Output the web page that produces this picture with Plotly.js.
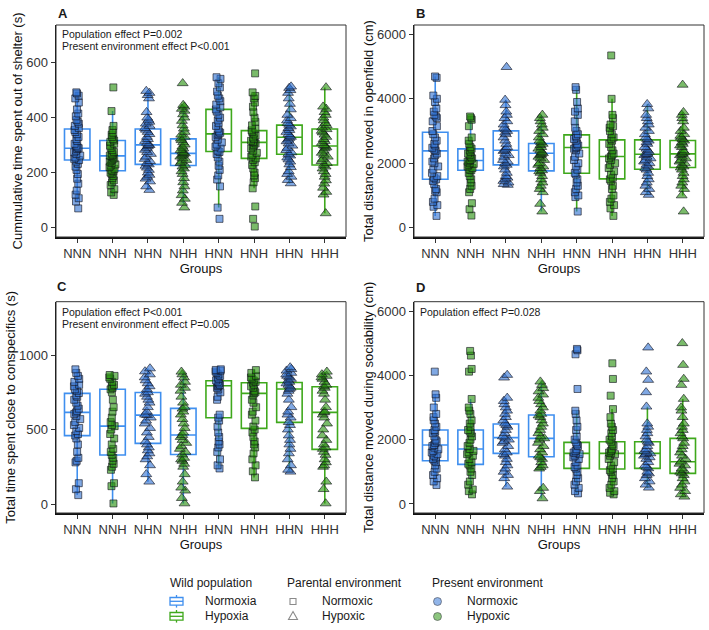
<!DOCTYPE html>
<html>
<head>
<meta charset="utf-8">
<script src="https://cdn.plot.ly/plotly-3.0.1.min.js"></script>
<style>html,body{margin:0;padding:0;background:#fff}#chart{width:709px;height:630px}</style>
</head>
<body>
<div id="chart"></div>
<script>
// ---------- categories ----------
const groups = ['NNN','NNH','NHN','NHH','HNN','HNH','HHN','HHH'];

// ---------- Panel A: cumulative time spent out of shelter (s) ----------
const A_NNN = [492,488,480,470,455,430,415,405,392,385,378,370,362,355,348,340,330,322,315,305,298,292,289,286,280,274,268,262,255,250,246,240,232,222,210,195,178,160,135,120,107,95,70];
const A_NNH = [510,424,370,355,345,338,330,322,317,312,305,298,290,282,275,270,265,262,260,256,252,248,244,240,235,230,226,220,214,208,205,200,195,188,180,172,165,155,140,128,119];
const A_NHN = [497,490,482,470,420,400,392,385,378,370,362,356,348,340,330,322,315,308,302,300,296,290,283,275,268,258,250,242,235,230,225,218,210,200,192,185,178,168,150,137];
const A_NHH = [525,446,440,432,425,412,400,388,372,360,348,338,330,324,318,310,302,295,288,282,276,272,270,266,262,258,252,246,240,235,228,222,215,205,195,180,165,150,135,118,105,90,73];
const A_HNN = [547,541,525,510,495,480,470,460,448,438,430,422,410,400,390,380,370,360,350,345,340,336,330,320,310,302,295,288,280,275,268,255,240,225,210,190,175,150,73,32];
const A_HNH = [561,492,479,470,455,440,420,400,385,372,360,354,348,342,335,328,322,316,312,310,306,300,295,288,280,272,265,258,252,246,238,228,215,200,190,180,165,143,77,32,4];
const A_HHN = [513,508,500,490,470,450,430,410,398,390,380,374,368,362,355,348,340,334,330,326,320,314,306,298,290,282,274,268,262,255,248,240,230,220,205,195,185,173,161];
const A_HHH = [510,440,432,420,410,400,390,380,372,364,358,352,346,338,330,322,315,308,300,297,292,288,280,272,265,258,250,242,235,228,222,215,205,195,185,172,160,145,130,120,52];
const A_q1  = [246,207,230,226,277,252,267,228];
const A_med = [289,261,301,270,341,310,329,297];
const A_q3  = [359,317,359,323,430,353,373,359];
const A_lo  = [95,119,137,90,73,143,161,52];
const A_hi  = [492,424,497,446,547,492,513,510];

// ---------- Panel B: total distance moved in openfield (cm) ----------
const B_NNN = [4692,4650,4100,4000,3900,3700,3600,3500,3450,3400,3300,3150,3000,2900,2800,2700,2600,2550,2480,2420,2384,2300,2250,2150,2050,2000,1900,1800,1700,1600,1550,1500,1450,1350,1200,1150,1100,900,800,700,650,365];
const B_NNH = [3450,3400,3350,3150,2800,2700,2600,2500,2450,2400,2350,2300,2250,2200,2150,2100,2080,2050,2000,1980,1950,1900,1850,1800,1780,1700,1600,1500,1400,1300,1200,1100,760,573,376];
const B_NHN = [4982,3967,3800,3600,3500,3400,3300,3200,3100,3050,3000,2950,2900,2800,2700,2600,2500,2450,2400,2380,2300,2250,2200,2100,2050,2000,1950,1900,1800,1700,1600,1550,1500,1450,1400,1350,1328];
const B_NHH = [3502,3400,3300,3200,3100,3000,2900,2800,2700,2650,2600,2560,2500,2450,2400,2350,2311,2280,2250,2200,2150,2100,2000,1950,1900,1850,1780,1750,1700,1600,1500,1400,1300,1200,1100,738,500];
const B_HNN = [4360,4278,3900,3700,3600,3500,3300,3100,3000,2900,2850,2800,2750,2700,2600,2550,2500,2480,2450,2400,2300,2200,2100,2000,1900,1800,1700,1650,1500,1400,1300,1200,1100,1000,950,500];
const B_HNH = [5344,3998,3500,3400,3200,3150,3100,3000,2900,2800,2750,2700,2600,2500,2400,2300,2250,2208,2150,2100,2000,1950,1850,1750,1650,1550,1500,1450,1300,1200,1000,900,800,700,600,365];
const B_HHN = [3833,3700,3500,3400,3300,3200,3100,3000,2900,2800,2750,2700,2650,2600,2500,2450,2400,2350,2300,2280,2250,2200,2150,2100,2050,2000,1950,1900,1850,1800,1700,1600,1500,1400,1300,1200,1100,1018];
const B_HHH = [4433,3584,3500,3400,3300,3100,3000,2900,2850,2800,2750,2700,2650,2600,2550,2500,2400,2350,2300,2290,2250,2200,2150,2100,2050,2000,1950,1900,1866,1800,1700,1600,1500,1400,1300,1200,1000,500];
const B_q1  = [1504,1783,1949,1763,1690,1514,1814,1866];
const B_med = [2384,2083,2404,2311,2487,2208,2280,2290];
const B_q3  = [2963,2446,3005,2611,2881,2725,2725,2705];
const B_lo  = [365,1100,1328,500,500,365,1018,1000];
const B_hi  = [4692,3450,3967,3502,4360,3998,3833,3584];

// ---------- Panel C: total time spent close to conspecifics (s) ----------
const C_NNN = [904,880,860,840,820,800,790,770,760,745,730,720,700,680,660,640,625,615,605,590,570,550,530,510,490,470,460,440,400,350,310,290,280,140,100,60];
const C_NNH = [866,860,850,840,820,800,790,780,770,750,700,650,620,580,550,530,523,500,470,440,400,370,350,330,310,290,270,250,230,140,120,4];
const C_NHN = [910,890,870,850,830,810,790,770,750,740,720,700,680,650,620,600,597,580,560,540,510,480,450,420,400,380,360,340,320,300,260,200,150];
const C_NHH = [888,870,850,820,800,780,760,720,680,650,640,620,600,570,540,510,480,463,450,430,410,390,370,350,333,310,300,290,270,250,200,150,110,90,40,4];
const C_HNN = [904,900,895,890,880,870,860,850,840,830,820,810,800,795,790,780,770,750,720,700,600,580,560,520,480,450,420,400,380,350,300,260,239];
const C_HNH = [899,880,860,850,840,830,820,815,800,790,780,760,750,743,730,700,680,650,620,600,560,520,500,480,450,420,400,380,340,300,260,220,179];
const C_HHN = [917,905,895,880,870,860,850,840,830,820,810,800,790,780,772,760,740,700,650,620,600,580,550,530,500,460,430,400,370,340,300,260,230,217];
const C_HHH = [888,870,860,850,840,820,800,790,780,760,740,700,650,620,615,600,580,540,500,460,430,400,380,370,350,330,300,280,260,250,150,100,4];
const C_q1  = [459,329,407,333,579,508,548,367];
const C_med = [615,523,597,463,794,743,772,615];
const C_q3  = [743,770,749,642,828,814,816,787];
const C_lo  = [60,4,150,4,239,179,217,4];
const C_hi  = [904,866,910,888,904,899,917,888];

// ---------- Panel D: total distance moved during sociability (cm) ----------
const D_NNN = [4115,3410,3300,3000,2800,2700,2600,2500,2400,2300,2250,2200,2100,2000,1950,1900,1834,1800,1750,1700,1650,1600,1550,1500,1450,1400,1350,1300,1200,1100,1000,900,800,700,589];
const D_NNH = [4758,4613,4198,4115,3265,3000,2900,2800,2600,2500,2400,2300,2250,2200,2100,2000,1900,1800,1709,1650,1600,1550,1500,1400,1300,1250,1200,1100,1000,900,700,600,450,400,299];
const D_NHN = [4011,3928,3300,3200,3100,3000,2900,2800,2700,2600,2500,2450,2400,2300,2200,2100,2062,2000,1950,1900,1800,1700,1600,1550,1500,1400,1300,1200,1100,1000,900,800,537];
const D_NHH = [3804,3700,3600,3500,3400,3300,3200,3100,3000,2900,2800,2750,2700,2600,2500,2400,2300,2200,2100,2041,2000,1900,1800,1700,1600,1500,1450,1400,1300,1200,1150,1100,500,400,174];
const D_HNN = [4820,4780,4654,3576,2900,2800,2600,2400,2300,2100,2000,1917,1850,1800,1700,1650,1600,1574,1550,1500,1450,1400,1300,1200,1150,1100,1000,900,800,700,600,500,400,330];
const D_HNH = [4374,3887,3368,2950,2700,2500,2400,2300,2200,2100,2000,1937,1850,1800,1700,1650,1600,1574,1550,1500,1400,1300,1200,1100,1050,1000,900,800,700,600,500,400,350,299];
const D_HHN = [4862,4115,3856,3472,3026,2500,2400,2300,2200,2100,2000,1937,1900,1800,1700,1650,1600,1574,1550,1500,1450,1400,1300,1200,1150,1108,1000,950,900,800,700,600,506];
const D_HHH = [4997,4322,3887,3700,3265,3000,2900,2700,2500,2400,2300,2200,2100,2041,1900,1800,1700,1600,1500,1400,1315,1250,1200,1100,1050,1000,952,900,800,700,600,500,400,300,226];
const D_q1  = [1346,1232,1574,1471,1108,1087,1108,952];
const D_med = [1834,1709,2062,2041,1574,1574,1574,1315];
const D_q3  = [2300,2300,2487,2767,1917,1937,1937,2041];
const D_lo  = [589,299,537,174,330,299,506,226];
const D_hi  = [3410,3265,3300,3804,2900,2950,3026,3265];

// ---------- tick labels / texts ----------
const A_ticks = [0,200,400,600];
const B_ticks = [0,2000,4000,6000];
const C_ticks = [0,500,1000];
const D_ticks = [0,2000,4000,6000];

// ---------- styling ----------
const W = 709, H = 630;
const FONT = 'Liberation Sans, Arial, Helvetica, sans-serif';
const BLUE_BOX = '#3f8fef', GREEN_BOX = '#3fa81c';
const BLUE_PT = 'rgba(50,115,210,0.62)', GREEN_PT = 'rgba(40,145,15,0.62)';
const PT_LINE = 'rgba(15,15,25,0.6)';
const px = x => x / W, py = y => 1 - y / H;

const panels = [
  {xa:'x',  ya:'y',  data:[A_NNN,A_NNH,A_NHN,A_NHH,A_HNN,A_HNH,A_HHN,A_HHH], q1:A_q1, med:A_med, q3:A_q3, lo:A_lo, hi:A_hi},
  {xa:'x2', ya:'y2', data:[B_NNN,B_NNH,B_NHN,B_NHH,B_HNN,B_HNH,B_HHN,B_HHH], q1:B_q1, med:B_med, q3:B_q3, lo:B_lo, hi:B_hi},
  {xa:'x3', ya:'y3', data:[C_NNN,C_NNH,C_NHN,C_NHH,C_HNN,C_HNH,C_HHN,C_HHH], q1:C_q1, med:C_med, q3:C_q3, lo:C_lo, hi:C_hi},
  {xa:'x4', ya:'y4', data:[D_NNN,D_NNH,D_NHN,D_NHH,D_HNN,D_HNH,D_HHN,D_HHH], q1:D_q1, med:D_med, q3:D_q3, lo:D_lo, hi:D_hi}
];

const traces = [];
panels.forEach(p => {
  ['N','H'].forEach(pop => {
    const idx = groups.map((g,i)=>i).filter(i => groups[i][0] === pop);
    traces.push({
      type:'box', xaxis:p.xa, yaxis:p.ya,
      x: idx.map(i=>groups[i]),
      q1: idx.map(i=>p.q1[i]), median: idx.map(i=>p.med[i]), q3: idx.map(i=>p.q3[i]),
      lowerfence: idx.map(i=>p.lo[i]), upperfence: idx.map(i=>p.hi[i]),
      boxpoints:false, width:0.72, whiskerwidth:0,
      line:{color: pop==='N' ? BLUE_BOX : GREEN_BOX, width:1.6},
      fillcolor:'rgba(255,255,255,0)', showlegend:false, hoverinfo:'skip'
    });
  });
  groups.forEach((g,i) => {
    const tri = g[1] === 'H';
    traces.push({
      type:'box', xaxis:p.xa, yaxis:p.ya,
      x: p.data[i].map(()=>g), y: p.data[i],
      boxpoints:'all', jitter:0.28, pointpos:0, width:0.72,
      line:{width:0, color:'rgba(0,0,0,0)'}, fillcolor:'rgba(0,0,0,0)',
      marker:{symbol: tri ? 'triangle-up' : 'square', size: tri ? 9.5 : 7,
              color: g[2]==='N' ? BLUE_PT : GREEN_PT, line:{color:PT_LINE, width:1}},
      showlegend:false, hoverinfo:'skip'
    });
  });
});

const xDomL = [px(56), px(346)], xDomR = [px(414), px(704)];
const yDomT = [py(237), py(25)], yDomB = [py(513), py(301.7)];

function xax(dom, anchor) {
  return {domain:dom, anchor:anchor, type:'category', categoryorder:'array', categoryarray:groups,
    range:[-0.6,7.6], showgrid:false, zeroline:false, showline:true, linecolor:'#111', linewidth:1.5,
    ticks:'outside', ticklen:4, tickcolor:'#333', tickwidth:1,
    tickfont:{size:13, color:'#333', family:FONT},
    title:{text:'Groups', font:{size:13, color:'#111', family:FONT}, standoff:0}, automargin:false};
}
function yax(dom, anchor, range, ticks, title) {
  return {domain:dom, anchor:anchor, range:range, tickvals:ticks, showgrid:false, zeroline:false,
    showline:true, linecolor:'#111', linewidth:1.5, ticks:'outside', ticklen:4, tickcolor:'#333', tickwidth:1,
    tickfont:{size:13, color:'#333', family:FONT},
    title:{text:title, font:{size:13, color:'#111', family:FONT}, standoff:0}, automargin:false};
}

const shapes = [];
['x','x2','x3','x4'].forEach((xa,i) => {
  const ya = ['y','y2','y3','y4'][i];
  shapes.push({type:'rect', xref:xa+' domain', yref:ya+' domain', x0:0, x1:1, y0:0, y1:1,
    line:{color:'#333', width:1}, fillcolor:'rgba(0,0,0,0)', layer:'above'});
});

// legend drawn manually
function boxIcon(cx, cy, color) {
  const w = 6.5, h = 3.8;
  shapes.push({type:'rect', xref:'paper', yref:'paper', x0:px(cx-w), x1:px(cx+w), y0:py(cy+h), y1:py(cy-h), line:{color:color, width:1.3}, fillcolor:'#fff'});
  shapes.push({type:'line', xref:'paper', yref:'paper', x0:px(cx-w), x1:px(cx+w), y0:py(cy), y1:py(cy), line:{color:color, width:1.3}});
  shapes.push({type:'line', xref:'paper', yref:'paper', x0:px(cx), x1:px(cx), y0:py(cy-h), y1:py(cy-h-2.5), line:{color:color, width:1.3}});
  shapes.push({type:'line', xref:'paper', yref:'paper', x0:px(cx), x1:px(cx), y0:py(cy+h), y1:py(cy+h+2.5), line:{color:color, width:1.3}});
}
boxIcon(176.5, 601.3, BLUE_BOX);
boxIcon(176.5, 616.3, GREEN_BOX);
shapes.push({type:'rect', xref:'paper', yref:'paper', x0:px(290), x1:px(296), y0:py(604.5), y1:py(598.5), line:{color:'#8a8a8a', width:1.1}, fillcolor:'rgba(0,0,0,0)'});
shapes.push({type:'path', xref:'paper', yref:'paper',
  path:`M ${px(293)} ${py(611.5)} L ${px(297.5)} ${py(619.5)} L ${px(288.5)} ${py(619.5)} Z`, line:{color:'#8a8a8a', width:1.1}, fillcolor:'rgba(0,0,0,0)'});
shapes.push({type:'circle', xref:'paper', yref:'paper', x0:px(433.5), x1:px(441.5), y0:py(605.5), y1:py(597.5), line:{color:'rgba(60,60,70,0.55)', width:1}, fillcolor:'rgba(55,120,215,0.55)'});
shapes.push({type:'circle', xref:'paper', yref:'paper', x0:px(433.5), x1:px(441.5), y0:py(620.5), y1:py(612.5), line:{color:'rgba(60,60,70,0.55)', width:1}, fillcolor:'rgba(45,150,20,0.55)'});

function txt(text, x, y, size, opts) {
  return Object.assign({text:text, xref:'paper', yref:'paper', x:px(x), y:py(y), xanchor:'left', yanchor:'middle',
    showarrow:false, font:{size:size, color:'#1a1a1a', family:FONT}}, opts||{});
}
const annotations = [
  txt('<b>A</b>', 56, 13, 13), txt('<b>B</b>', 414, 13, 13),
  txt('<b>C</b>', 55, 287, 13), txt('<b>D</b>', 414, 288, 13),
  txt('Population effect P=0.002', 60, 34, 10.5),
  txt('Present environment effect P<0.001', 60, 46.5, 10.5),
  txt('Population effect P<0.001', 60, 311.5, 10.5),
  txt('Present environment effect P=0.005', 60, 324, 10.5),
  txt('Population effect P=0.028', 418, 311.5, 10.5),
  txt('Wild population', 168, 583, 12),
  txt('Parental environment', 285, 583, 12),
  txt('Present environment', 430, 583, 12),
  txt('Normoxia', 203, 601, 12), txt('Hypoxia', 203, 616, 12),
  txt('Normoxic', 320, 601, 12), txt('Hypoxic', 320, 616, 12),
  txt('Normoxic', 465, 601, 12), txt('Hypoxic', 465, 616, 12)
];

const layout = {
  width:W, height:H, margin:{l:0, r:0, t:0, b:0}, paper_bgcolor:'#fff', plot_bgcolor:'#fff',
  showlegend:false, boxmode:'overlay', font:{family:FONT},
  xaxis: xax(xDomL,'y'), yaxis: yax(yDomT,'x',[-34,737],A_ticks,'Cummulative time spent out of shelter (s)'),
  xaxis2: xax(xDomR,'y2'), yaxis2: yax(yDomT,'x2',[-289,6289],B_ticks,'Total distance moved in openfield (cm)'),
  xaxis3: xax(xDomL,'y3'), yaxis3: yax(yDomB,'x3',[-60,1358],C_ticks,'Total time spent close to conspecifics (s)'),
  xaxis4: xax(xDomR,'y4'), yaxis4: yax(yDomB,'x4',[-280,6289],D_ticks,'Total distance moved during sociability (cm)'),
  shapes:shapes, annotations:annotations
};

Plotly.newPlot('chart', traces, layout, {staticPlot:true, displayModeBar:false});
</script>
</body>
</html>
